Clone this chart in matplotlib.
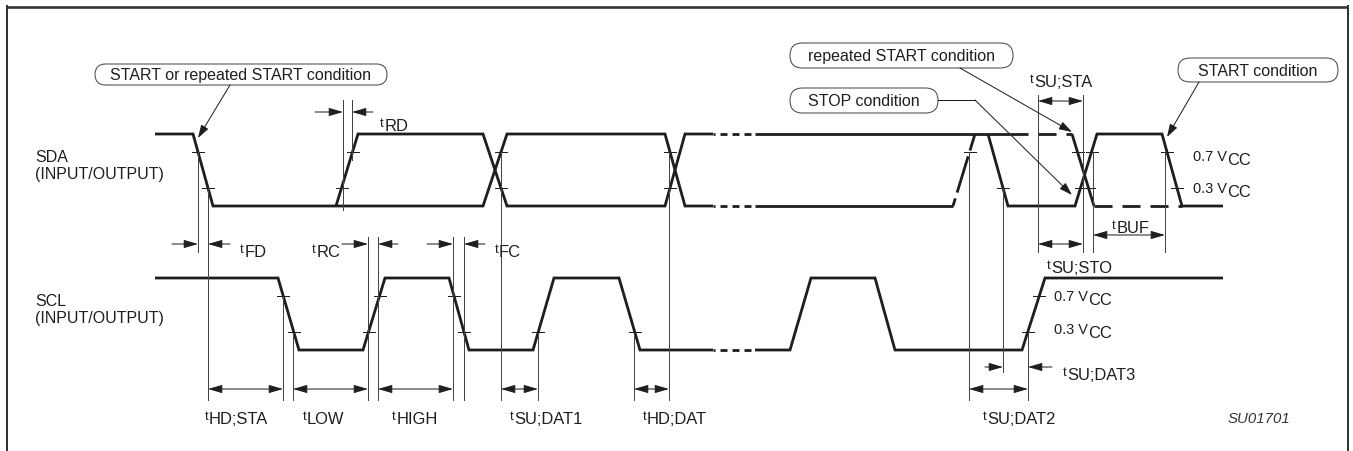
import matplotlib.pyplot as plt
from matplotlib.patches import FancyBboxPatch, ArrowStyle

plt.rcParams['font.family'] = ['Liberation Sans', 'DejaVu Sans']
plt.rcParams['lines.scale_dashes'] = False

# level positions of the two signals (high y, low y), in pixels
ROWS = {'SDA': (134, 206), 'SCL': (278, 350)}

# SDA waveform: breakpoint times and logic levels (1 = high, 0 = low)
sda_main_t = [155, 193, 213, 483, 507, 665, 685, 713]
sda_main_v = [1, 1, 0, 0, 1, 1, 0, 0]
sda_alt_t = [336, 358, 483, 507, 665, 685, 713]
sda_alt_v = [0, 1, 1, 0, 0, 1, 1]
sda_hi_t = [755, 1010]
sda_hi_v = [1, 1]
sda_lo_t = [755, 953]
sda_lo_v = [0, 0]
sda_end_t = [988, 1008, 1075, 1097, 1162, 1182, 1223]
sda_end_v = [1, 0, 0, 1, 1, 0, 0]
sda_rs_t = [1072, 1094]
sda_rs_v = [1, 0]
sda_opt = [([1010, 1072], [1, 1]), ([1094, 1182], [0, 0]), ([953, 975], [0, 1])]

# SCL waveform
scl_a_t = [155, 278, 299, 363, 385, 449, 469, 533, 554, 619, 640, 713]
scl_a_v = [1, 1, 0, 0, 1, 1, 0, 0, 1, 1, 0, 0]
scl_b_t = [755, 790, 811, 875, 895, 1022, 1045, 1223]
scl_b_v = [0, 0, 1, 1, 0, 0, 1, 1]

# gap in the time axis
break_t = [713, 755]

# threshold ticks: (edge start, edge end, rising?, fractions)
sda_ticks = [(193, 213, 0, [.75, .25]), (336, 358, 1, [.25, .75]),
             (483, 507, 1, [.75]), (483, 507, 0, [.25]),
             (665, 685, 0, [.75]), (665, 685, 1, [.25]),
             (953, 975, 1, [.75]), (988, 1008, 0, [.25]),
             (1072, 1094, 0, [.75, .25]), (1075, 1097, 1, [.25, .75]),
             (1162, 1182, 0, [.75, .25])]
scl_ticks = [(278, 299, 0, [.75, .25]), (363, 385, 1, [.25, .75]),
             (449, 469, 0, [.75, .25]), (533, 554, 1, [.25]),
             (619, 640, 0, [.25]), (1022, 1045, 1, [.25, .75])]

# guide lines (x, top, bottom)
guides = [(198, 152, 252), (208, 188, 400), (283, 297, 400), (293, 333, 400),
          (343, 100, 210), (352, 100, 160), (368, 237, 400), (378, 237, 400),
          (453, 237, 400), (464, 237, 400), (501, 152, 400), (538, 333, 400),
          (634, 333, 400), (669, 152, 400), (969, 152, 400), (1003, 188, 372),
          (1028, 333, 400), (1038, 95, 252), (1083, 95, 252), (1093, 152, 252),
          (1165, 152, 252)]

# dimension arrows
arrows_in = [(172, 198, 244), (230, 208, 244), (315, 343, 112), (373, 352, 112),
             (342, 368, 244), (398, 378, 244), (427, 453, 244), (485, 464, 244),
             (985, 1003, 367), (1052, 1028, 367)]
arrows_both = [(208, 283, 389), (293, 368, 389), (378, 453, 389), (501, 538, 389),
               (634, 669, 389), (969, 1028, 389), (1038, 1083, 244),
               (1093, 1165, 235), (1038, 1083, 101)]

# timing labels: x, baseline, subscript
t_labels = [(380, 131, 'RD'), (240, 257, 'FD'), (312, 257, 'RC'), (495, 257, 'FC'),
            (205, 424, 'HD;STA'), (303, 424, 'LOW'), (392, 424, 'HIGH'),
            (510, 424, 'SU;DAT1'), (643, 424, 'HD;DAT'), (983, 424, 'SU;DAT2'),
            (1063, 380, 'SU;DAT3'), (1047, 273, 'SU;STO'), (1112, 233, 'BUF'),
            (1030, 87, 'SU;STA')]
vcc_labels = [(1193, 165, '0.7'), (1193, 197, '0.3'), (1054, 305, '0.7'), (1054, 338, '0.3')]

callouts = [
    ('START or repeated START condition', (95, 64, 387, 85), [(230, 85), (198, 138)]),
    ('repeated START condition', (790, 43, 1013, 68), [(960, 68), (1072, 132)]),
    ('STOP condition', (790, 88, 938, 113), [(938, 100), (975, 100), (1072, 195)]),
    ('START condition', (1178, 58, 1338, 82), [(1199, 82), (1167, 137)]),
]

INK = '#1e1e1e'
THIN = '#444444'
WAVE_LW = 2.8

fig = plt.figure(figsize=(1353 / 72, 451 / 72), dpi=72)
ax = fig.add_axes([0, 0, 1, 1])
ax.set_xlim(0, 1353)
ax.set_ylim(451, 0)
ax.axis('off')


def ys(sig, vals):
    hi, lo = ROWS[sig]
    return [lo - v * (lo - hi) for v in vals]


def wave(sig, t, v, **kw):
    ax.plot(t, ys(sig, v), color=INK, lw=WAVE_LW, solid_joinstyle='miter',
            solid_capstyle='butt', dash_capstyle='butt', **kw)


# frame
ax.plot([7, 1348], [7, 7], color='#333333', lw=2.6, solid_capstyle='butt')
ax.plot([7, 7], [6, 451], color='#333333', lw=2.0)
ax.plot([1348, 1348], [6, 451], color='#333333', lw=2.0)

# waveforms
wave('SDA', sda_main_t, sda_main_v)
wave('SDA', sda_alt_t, sda_alt_v)
wave('SDA', sda_hi_t, sda_hi_v)
wave('SDA', sda_lo_t, sda_lo_v)
wave('SDA', sda_end_t, sda_end_v)
wave('SDA', sda_rs_t, sda_rs_v)
for t, v in sda_opt[:2]:
    wave('SDA', t, v, linestyle=(0, (18, 10)))
wave('SDA', sda_opt[2][0], sda_opt[2][1], linestyle=(0, (8, 6, 30, 0)))
wave('SCL', scl_a_t, scl_a_v)
wave('SCL', scl_b_t, scl_b_v)

brk = (5, (7, 5))
for sig, lv in [('SDA', 1), ('SDA', 0), ('SCL', 0)]:
    ax.plot(break_t, ys(sig, [lv, lv]), color=INK, lw=WAVE_LW, linestyle=brk)

# threshold ticks
for sig, ticks in [('SDA', sda_ticks), ('SCL', scl_ticks)]:
    hi, lo = ROWS[sig]
    for t0, t1, rising, fr in ticks:
        for f in fr:
            x = t0 + (t1 - t0) * (f if rising else 1 - f)
            y = lo - f * (lo - hi)
            ax.plot([x - 6, x + 6], [y, y], color=INK, lw=1.0)

# guide lines
for x, y0, y1 in guides:
    ax.plot([x, x], [y0, y1], color=THIN, lw=1.0)

head = ArrowStyle('-|>', head_length=12, head_width=3.5)
head2 = ArrowStyle('<|-|>', head_length=12, head_width=3.5)
for x0, x1, y in arrows_in:
    ax.annotate('', xy=(x1, y), xytext=(x0, y),
                arrowprops=dict(arrowstyle=head, color=INK, lw=1.0,
                                shrinkA=0, shrinkB=0, mutation_scale=1))
for x0, x1, y in arrows_both:
    ax.annotate('', xy=(x1, y), xytext=(x0, y),
                arrowprops=dict(arrowstyle=head2, color=INK, lw=1.0,
                                shrinkA=0, shrinkB=0, mutation_scale=1))

fig.canvas.draw()
renderer = fig.canvas.get_renderer()


def two_part(x, y, first, second, s1, s2, rise):
    a = ax.text(x, y - rise, first, fontsize=s1, color=INK, ha='left', va='baseline')
    x_end = a.get_window_extent(renderer).x1
    ax.text(x_end + 0.5, y, second, fontsize=s2, color=INK, ha='left', va='baseline')


for x, y, sub in t_labels:
    two_part(x, y, 't', sub, 13, 16.5, 4)
for x, y, lv in vcc_labels:
    two_part(x, y, lv + ' V', 'CC', 14.5, 16.5, 4)

# signal names
for name, (hi, lo) in ROWS.items():
    ax.text(35, hi + 28, name, fontsize=16, color=INK, va='baseline')
    ax.text(35, hi + 45, '(INPUT/OUTPUT)', fontsize=16, color=INK, va='baseline')

# callouts
for text, (x0, y0, x1, y1), path in callouts:
    h = y1 - y0
    box = FancyBboxPatch((x0, y0), x1 - x0, h,
                         boxstyle=f'round,pad=0,rounding_size={h / 2}',
                         fc='none', ec=THIN, lw=1.0)
    ax.add_patch(box)
    ax.text((x0 + x1) / 2, (y0 + y1) / 2 + 1, text, fontsize=16, color=INK,
            ha='center', va='center')
    if len(path) > 2:
        xs = [p[0] for p in path[:-1]]
        yy = [p[1] for p in path[:-1]]
        ax.plot(xs, yy, color=INK, lw=1.0)
    ax.annotate('', xy=path[-1], xytext=path[-2],
                arrowprops=dict(arrowstyle=ArrowStyle('-|>', head_length=11, head_width=3.5),
                                color=INK, lw=1.0, shrinkA=0, shrinkB=0,
                                mutation_scale=1))

ax.text(1228, 423, 'SU01701', fontsize=15, style='italic', color='#333333',
        ha='left', va='baseline')

fig.savefig('out.png', dpi=72)
